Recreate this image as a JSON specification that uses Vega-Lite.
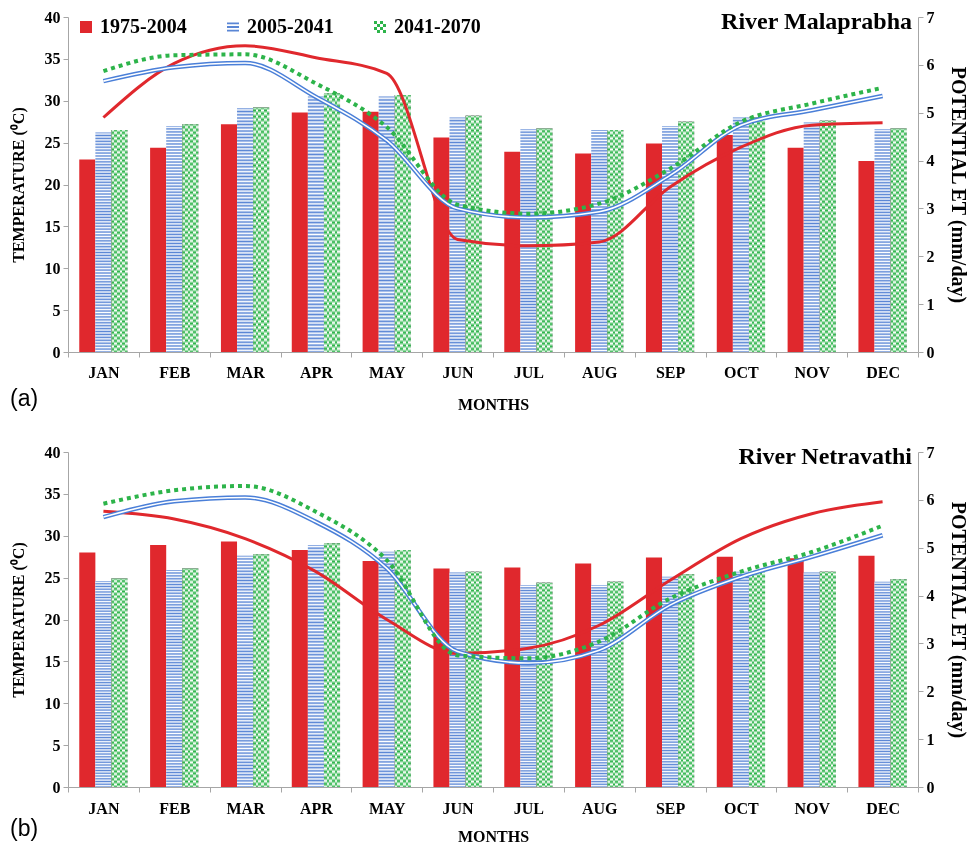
{
"$schema":"https://vega.github.io/schema/vega-lite/v6.json",
"padding":{"left":10,"top":9,"right":4,"bottom":0},
"spacing":32,
"datasets":{
"a":[
{"month":"JAN","series":"1975-2004","temp":23.0,"pet":4.90},{"month":"JAN","series":"2005-2041","temp":26.2,"pet":5.66},{"month":"JAN","series":"2041-2070","temp":26.5,"pet":5.87},
{"month":"FEB","series":"1975-2004","temp":24.4,"pet":6.03},{"month":"FEB","series":"2005-2041","temp":27.0,"pet":5.95},{"month":"FEB","series":"2041-2070","temp":27.2,"pet":6.20},
{"month":"MAR","series":"1975-2004","temp":27.2,"pet":6.40},{"month":"MAR","series":"2005-2041","temp":29.1,"pet":6.04},{"month":"MAR","series":"2041-2070","temp":29.2,"pet":6.22},
{"month":"APR","series":"1975-2004","temp":28.6,"pet":6.15},{"month":"APR","series":"2005-2041","temp":30.5,"pet":5.33},{"month":"APR","series":"2041-2070","temp":30.9,"pet":5.61},
{"month":"MAY","series":"1975-2004","temp":28.7,"pet":5.82},{"month":"MAY","series":"2005-2041","temp":30.5,"pet":4.42},{"month":"MAY","series":"2041-2070","temp":30.7,"pet":4.70},
{"month":"JUN","series":"1975-2004","temp":25.6,"pet":2.35},{"month":"JUN","series":"2005-2041","temp":28.0,"pet":3.00},{"month":"JUN","series":"2041-2070","temp":28.2,"pet":3.08},
{"month":"JUL","series":"1975-2004","temp":23.9,"pet":2.22},{"month":"JUL","series":"2005-2041","temp":26.6,"pet":2.81},{"month":"JUL","series":"2041-2070","temp":26.7,"pet":2.89},
{"month":"AUG","series":"1975-2004","temp":23.7,"pet":2.30},{"month":"AUG","series":"2005-2041","temp":26.5,"pet":2.93},{"month":"AUG","series":"2041-2070","temp":26.5,"pet":3.10},
{"month":"SEP","series":"1975-2004","temp":24.9,"pet":3.45},{"month":"SEP","series":"2005-2041","temp":27.0,"pet":3.69},{"month":"SEP","series":"2041-2070","temp":27.5,"pet":3.83},
{"month":"OCT","series":"1975-2004","temp":25.9,"pet":4.28},{"month":"OCT","series":"2005-2041","temp":28.0,"pet":4.74},{"month":"OCT","series":"2041-2070","temp":28.0,"pet":4.81},
{"month":"NOV","series":"1975-2004","temp":24.4,"pet":4.74},{"month":"NOV","series":"2005-2041","temp":27.4,"pet":5.05},{"month":"NOV","series":"2041-2070","temp":27.6,"pet":5.19},
{"month":"DEC","series":"1975-2004","temp":22.8,"pet":4.79},{"month":"DEC","series":"2005-2041","temp":26.6,"pet":5.35},{"month":"DEC","series":"2041-2070","temp":26.7,"pet":5.52}
],
"b":[
{"month":"JAN","series":"1975-2004","temp":28.0,"pet":5.76},{"month":"JAN","series":"2005-2041","temp":24.6,"pet":5.64},{"month":"JAN","series":"2041-2070","temp":24.9,"pet":5.92},
{"month":"FEB","series":"1975-2004","temp":28.9,"pet":5.60},{"month":"FEB","series":"2005-2041","temp":25.9,"pet":5.97},{"month":"FEB","series":"2041-2070","temp":26.1,"pet":6.20},
{"month":"MAR","series":"1975-2004","temp":29.3,"pet":5.19},{"month":"MAR","series":"2005-2041","temp":27.6,"pet":6.05},{"month":"MAR","series":"2041-2070","temp":27.8,"pet":6.29},
{"month":"APR","series":"1975-2004","temp":28.3,"pet":4.50},{"month":"APR","series":"2005-2041","temp":28.9,"pet":5.54},{"month":"APR","series":"2041-2070","temp":29.1,"pet":5.75},
{"month":"MAY","series":"1975-2004","temp":27.0,"pet":3.50},{"month":"MAY","series":"2005-2041","temp":28.1,"pet":4.57},{"month":"MAY","series":"2041-2070","temp":28.3,"pet":4.74},
{"month":"JUN","series":"1975-2004","temp":26.1,"pet":2.79},{"month":"JUN","series":"2005-2041","temp":25.6,"pet":2.83},{"month":"JUN","series":"2041-2070","temp":25.7,"pet":2.75},
{"month":"JUL","series":"1975-2004","temp":26.2,"pet":2.90},{"month":"JUL","series":"2005-2041","temp":24.1,"pet":2.59},{"month":"JUL","series":"2041-2070","temp":24.4,"pet":2.69},
{"month":"AUG","series":"1975-2004","temp":26.7,"pet":3.38},{"month":"AUG","series":"2005-2041","temp":24.1,"pet":2.86},{"month":"AUG","series":"2041-2070","temp":24.5,"pet":3.04},
{"month":"SEP","series":"1975-2004","temp":27.4,"pet":4.32},{"month":"SEP","series":"2005-2041","temp":25.1,"pet":3.80},{"month":"SEP","series":"2041-2070","temp":25.4,"pet":3.94},
{"month":"OCT","series":"1975-2004","temp":27.5,"pet":5.19},{"month":"OCT","series":"2005-2041","temp":25.7,"pet":4.39},{"month":"OCT","series":"2041-2070","temp":25.8,"pet":4.50},
{"month":"NOV","series":"1975-2004","temp":27.3,"pet":5.71},{"month":"NOV","series":"2005-2041","temp":25.6,"pet":4.81},{"month":"NOV","series":"2041-2070","temp":25.7,"pet":4.91},
{"month":"DEC","series":"1975-2004","temp":27.6,"pet":5.96},{"month":"DEC","series":"2005-2041","temp":24.5,"pet":5.26},{"month":"DEC","series":"2041-2070","temp":24.8,"pet":5.46}
]
},
"vconcat":[
{
"title":{"text":"(a)","orient":"bottom","anchor":"start","frame":"bounds","font":"Liberation Sans","fontSize":23,"fontWeight":"normal","color":"#000","offset":-24},
"vconcat":[{
"width":850,"height":335,
"data":{"name":"a"},
"title":{"text":"River Malaprabha","orient":"top","anchor":"end","frame":"group","font":"Liberation Serif","fontSize":24,"fontWeight":"bold","color":"#000","offset":-24,"baseline":"alphabetic","dy":20,"dx":-6},
"encoding":{"x":{"field":"month","type":"ordinal","sort":["JAN","FEB","MAR","APR","MAY","JUN","JUL","AUG","SEP","OCT","NOV","DEC"],"scale":{"paddingInner":0,"paddingOuter":0},"axis":{"title":"MONTHS","labelAngle":0,"tickBand":"extent","labelPadding":7,"titlePadding":16,"titleFontSize":16}}},
"layer":[
{"encoding":{"y":{"field":"temp","type":"quantitative","scale":{"domain":[0,40],"nice":false},"axis":{"title":"TEMPERATURE (⁰C)","values":[0,5,10,15,20,25,30,35,40],"titlePadding":18,"titleFontSize":16}},
"xOffset":{"field":"series","type":"nominal","scale":{"domain":["1975-2004","2005-2041","2041-2070"],"paddingInner":0,"paddingOuter":0.7}}},
"layer":[
{"transform":[{"filter":"datum.series == '1975-2004'"}],"mark":{"type":"bar","fill":"#e0282d"}},
{"transform":[{"filter":"datum.series == '2005-2041'"}],"mark":{"type":"bar","fill":{"gradient":"linear","x1":0,"y1":0,"x2":0,"y2":1,"stops":[
{"offset":0,"color":"#5a86d5"},{"offset":0.0067,"color":"#fff"},{"offset":0.0133,"color":"#5a86d5"},{"offset":0.02,"color":"#fff"},{"offset":0.0267,"color":"#5a86d5"},{"offset":0.0333,"color":"#fff"},
{"offset":0.04,"color":"#5a86d5"},{"offset":0.0467,"color":"#fff"},{"offset":0.0533,"color":"#5a86d5"},{"offset":0.06,"color":"#fff"},{"offset":0.0667,"color":"#5a86d5"},{"offset":0.0733,"color":"#fff"},
{"offset":0.08,"color":"#5a86d5"},{"offset":0.0867,"color":"#fff"},{"offset":0.0933,"color":"#5a86d5"},{"offset":0.1,"color":"#fff"},{"offset":0.1067,"color":"#5a86d5"},{"offset":0.1133,"color":"#fff"},
{"offset":0.12,"color":"#5a86d5"},{"offset":0.1267,"color":"#fff"},{"offset":0.1333,"color":"#5a86d5"},{"offset":0.14,"color":"#fff"},{"offset":0.1467,"color":"#5a86d5"},{"offset":0.1533,"color":"#fff"},
{"offset":0.16,"color":"#5a86d5"},{"offset":0.1667,"color":"#fff"},{"offset":0.1733,"color":"#5a86d5"},{"offset":0.18,"color":"#fff"},{"offset":0.1867,"color":"#5a86d5"},{"offset":0.1933,"color":"#fff"},
{"offset":0.2,"color":"#5a86d5"},{"offset":0.2067,"color":"#fff"},{"offset":0.2133,"color":"#5a86d5"},{"offset":0.22,"color":"#fff"},{"offset":0.2267,"color":"#5a86d5"},{"offset":0.2333,"color":"#fff"},
{"offset":0.24,"color":"#5a86d5"},{"offset":0.2467,"color":"#fff"},{"offset":0.2533,"color":"#5a86d5"},{"offset":0.26,"color":"#fff"},{"offset":0.2667,"color":"#5a86d5"},{"offset":0.2733,"color":"#fff"},
{"offset":0.28,"color":"#5a86d5"},{"offset":0.2867,"color":"#fff"},{"offset":0.2933,"color":"#5a86d5"},{"offset":0.3,"color":"#fff"},{"offset":0.3067,"color":"#5a86d5"},{"offset":0.3133,"color":"#fff"},
{"offset":0.32,"color":"#5a86d5"},{"offset":0.3267,"color":"#fff"},{"offset":0.3333,"color":"#5a86d5"},{"offset":0.34,"color":"#fff"},{"offset":0.3467,"color":"#5a86d5"},{"offset":0.3533,"color":"#fff"},
{"offset":0.36,"color":"#5a86d5"},{"offset":0.3667,"color":"#fff"},{"offset":0.3733,"color":"#5a86d5"},{"offset":0.38,"color":"#fff"},{"offset":0.3867,"color":"#5a86d5"},{"offset":0.3933,"color":"#fff"},
{"offset":0.4,"color":"#5a86d5"},{"offset":0.4067,"color":"#fff"},{"offset":0.4133,"color":"#5a86d5"},{"offset":0.42,"color":"#fff"},{"offset":0.4267,"color":"#5a86d5"},{"offset":0.4333,"color":"#fff"},
{"offset":0.44,"color":"#5a86d5"},{"offset":0.4467,"color":"#fff"},{"offset":0.4533,"color":"#5a86d5"},{"offset":0.46,"color":"#fff"},{"offset":0.4667,"color":"#5a86d5"},{"offset":0.4733,"color":"#fff"},
{"offset":0.48,"color":"#5a86d5"},{"offset":0.4867,"color":"#fff"},{"offset":0.4933,"color":"#5a86d5"},{"offset":0.5,"color":"#fff"},{"offset":0.5067,"color":"#5a86d5"},{"offset":0.5133,"color":"#fff"},
{"offset":0.52,"color":"#5a86d5"},{"offset":0.5267,"color":"#fff"},{"offset":0.5333,"color":"#5a86d5"},{"offset":0.54,"color":"#fff"},{"offset":0.5467,"color":"#5a86d5"},{"offset":0.5533,"color":"#fff"},
{"offset":0.56,"color":"#5a86d5"},{"offset":0.5667,"color":"#fff"},{"offset":0.5733,"color":"#5a86d5"},{"offset":0.58,"color":"#fff"},{"offset":0.5867,"color":"#5a86d5"},{"offset":0.5933,"color":"#fff"},
{"offset":0.6,"color":"#5a86d5"},{"offset":0.6067,"color":"#fff"},{"offset":0.6133,"color":"#5a86d5"},{"offset":0.62,"color":"#fff"},{"offset":0.6267,"color":"#5a86d5"},{"offset":0.6333,"color":"#fff"},
{"offset":0.64,"color":"#5a86d5"},{"offset":0.6467,"color":"#fff"},{"offset":0.6533,"color":"#5a86d5"},{"offset":0.66,"color":"#fff"},{"offset":0.6667,"color":"#5a86d5"},{"offset":0.6733,"color":"#fff"},
{"offset":0.68,"color":"#5a86d5"},{"offset":0.6867,"color":"#fff"},{"offset":0.6933,"color":"#5a86d5"},{"offset":0.7,"color":"#fff"},{"offset":0.7067,"color":"#5a86d5"},{"offset":0.7133,"color":"#fff"},
{"offset":0.72,"color":"#5a86d5"},{"offset":0.7267,"color":"#fff"},{"offset":0.7333,"color":"#5a86d5"},{"offset":0.74,"color":"#fff"},{"offset":0.7467,"color":"#5a86d5"},{"offset":0.7533,"color":"#fff"},
{"offset":0.76,"color":"#5a86d5"},{"offset":0.7667,"color":"#fff"},{"offset":0.7733,"color":"#5a86d5"},{"offset":0.78,"color":"#fff"},{"offset":0.7867,"color":"#5a86d5"},{"offset":0.7933,"color":"#fff"},
{"offset":0.8,"color":"#5a86d5"},{"offset":0.8067,"color":"#fff"},{"offset":0.8133,"color":"#5a86d5"},{"offset":0.82,"color":"#fff"},{"offset":0.8267,"color":"#5a86d5"},{"offset":0.8333,"color":"#fff"},
{"offset":0.84,"color":"#5a86d5"},{"offset":0.8467,"color":"#fff"},{"offset":0.8533,"color":"#5a86d5"},{"offset":0.86,"color":"#fff"},{"offset":0.8667,"color":"#5a86d5"},{"offset":0.8733,"color":"#fff"},
{"offset":0.88,"color":"#5a86d5"},{"offset":0.8867,"color":"#fff"},{"offset":0.8933,"color":"#5a86d5"},{"offset":0.9,"color":"#fff"},{"offset":0.9067,"color":"#5a86d5"},{"offset":0.9133,"color":"#fff"},
{"offset":0.92,"color":"#5a86d5"},{"offset":0.9267,"color":"#fff"},{"offset":0.9333,"color":"#5a86d5"},{"offset":0.94,"color":"#fff"},{"offset":0.9467,"color":"#5a86d5"},{"offset":0.9533,"color":"#fff"},
{"offset":0.96,"color":"#5a86d5"},{"offset":0.9667,"color":"#fff"},{"offset":0.9733,"color":"#5a86d5"},{"offset":0.98,"color":"#fff"},{"offset":0.9867,"color":"#5a86d5"},{"offset":0.9933,"color":"#fff"},
{"offset":1,"color":"#5a86d5"}]}}},
{"transform":[{"filter":"datum.series == '2041-2070'"}],"mark":{"type":"bar","fill":{"gradient":"linear","x1":0,"y1":0,"x2":0,"y2":1,"stops":[
{"offset":0,"color":"#000"},{"offset":0.0125,"color":"#fff"},{"offset":0.025,"color":"#000"},{"offset":0.0375,"color":"#fff"},{"offset":0.05,"color":"#000"},{"offset":0.0625,"color":"#fff"},{"offset":0.075,"color":"#000"},{"offset":0.0875,"color":"#fff"},
{"offset":0.1,"color":"#000"},{"offset":0.1125,"color":"#fff"},{"offset":0.125,"color":"#000"},{"offset":0.1375,"color":"#fff"},{"offset":0.15,"color":"#000"},{"offset":0.1625,"color":"#fff"},{"offset":0.175,"color":"#000"},{"offset":0.1875,"color":"#fff"},
{"offset":0.2,"color":"#000"},{"offset":0.2125,"color":"#fff"},{"offset":0.225,"color":"#000"},{"offset":0.2375,"color":"#fff"},{"offset":0.25,"color":"#000"},{"offset":0.2625,"color":"#fff"},{"offset":0.275,"color":"#000"},{"offset":0.2875,"color":"#fff"},
{"offset":0.3,"color":"#000"},{"offset":0.3125,"color":"#fff"},{"offset":0.325,"color":"#000"},{"offset":0.3375,"color":"#fff"},{"offset":0.35,"color":"#000"},{"offset":0.3625,"color":"#fff"},{"offset":0.375,"color":"#000"},{"offset":0.3875,"color":"#fff"},
{"offset":0.4,"color":"#000"},{"offset":0.4125,"color":"#fff"},{"offset":0.425,"color":"#000"},{"offset":0.4375,"color":"#fff"},{"offset":0.45,"color":"#000"},{"offset":0.4625,"color":"#fff"},{"offset":0.475,"color":"#000"},{"offset":0.4875,"color":"#fff"},
{"offset":0.5,"color":"#000"},{"offset":0.5125,"color":"#fff"},{"offset":0.525,"color":"#000"},{"offset":0.5375,"color":"#fff"},{"offset":0.55,"color":"#000"},{"offset":0.5625,"color":"#fff"},{"offset":0.575,"color":"#000"},{"offset":0.5875,"color":"#fff"},
{"offset":0.6,"color":"#000"},{"offset":0.6125,"color":"#fff"},{"offset":0.625,"color":"#000"},{"offset":0.6375,"color":"#fff"},{"offset":0.65,"color":"#000"},{"offset":0.6625,"color":"#fff"},{"offset":0.675,"color":"#000"},{"offset":0.6875,"color":"#fff"},
{"offset":0.7,"color":"#000"},{"offset":0.7125,"color":"#fff"},{"offset":0.725,"color":"#000"},{"offset":0.7375,"color":"#fff"},{"offset":0.75,"color":"#000"},{"offset":0.7625,"color":"#fff"},{"offset":0.775,"color":"#000"},{"offset":0.7875,"color":"#fff"},
{"offset":0.8,"color":"#000"},{"offset":0.8125,"color":"#fff"},{"offset":0.825,"color":"#000"},{"offset":0.8375,"color":"#fff"},{"offset":0.85,"color":"#000"},{"offset":0.8625,"color":"#fff"},{"offset":0.875,"color":"#000"},{"offset":0.8875,"color":"#fff"},
{"offset":0.9,"color":"#000"},{"offset":0.9125,"color":"#fff"},{"offset":0.925,"color":"#000"},{"offset":0.9375,"color":"#fff"},{"offset":0.95,"color":"#000"},{"offset":0.9625,"color":"#fff"},{"offset":0.975,"color":"#000"},{"offset":0.9875,"color":"#fff"},
{"offset":1,"color":"#000"}]}}},
{"transform":[{"filter":"datum.series == '2041-2070'"}],"mark":{"type":"bar","blend":"difference","fill":{"gradient":"linear","x1":0,"y1":0,"x2":1,"y2":0,"stops":[
{"offset":0,"color":"#fff"},{"offset":0.1667,"color":"#fff"},{"offset":0.1667,"color":"rgba(255,255,255,0)"},{"offset":0.3333,"color":"rgba(255,255,255,0)"},{"offset":0.3333,"color":"#fff"},{"offset":0.5,"color":"#fff"},{"offset":0.5,"color":"rgba(255,255,255,0)"},{"offset":0.6667,"color":"rgba(255,255,255,0)"},{"offset":0.6667,"color":"#fff"},{"offset":0.8333,"color":"#fff"},{"offset":0.8333,"color":"rgba(255,255,255,0)"},{"offset":1,"color":"rgba(255,255,255,0)"}]}}},
{"transform":[{"filter":"datum.series == '2041-2070'"}],"mark":{"type":"bar","blend":"screen","fill":"#2db44a"}}
]},
{"encoding":{"y":{"field":"pet","type":"quantitative","scale":{"domain":[0,7],"nice":false},"axis":{"orient":"right","title":"POTENTIAL ET (mm/day)","values":[0,1,2,3,4,5,6,7],"titlePadding":13,"titleFontSize":20}}},
"layer":[
{"transform":[{"filter":"datum.series == '1975-2004'"}],"mark":{"type":"line","stroke":"#e0282d","strokeWidth":3,"interpolate":"monotone"},"encoding":{"order":{"value":null}}},
{"transform":[{"filter":"datum.series == '2005-2041'"}],"mark":{"type":"line","stroke":"#4a7fd8","strokeWidth":4.5,"interpolate":"monotone"},"encoding":{"order":{"value":null}}},
{"transform":[{"filter":"datum.series == '2005-2041'"}],"mark":{"type":"line","stroke":"#ffffff","strokeWidth":1.6,"interpolate":"monotone"},"encoding":{"order":{"value":null}}},
{"transform":[{"filter":"datum.series == '2041-2070'"}],"mark":{"type":"line","stroke":"#2db44a","strokeWidth":4,"strokeDash":[4,4],"interpolate":"monotone"},"encoding":{"order":{"value":null}}},
{"transform":[{"filter":"datum.temp < 0"}],"mark":{"type":"point","filled":true,"opacity":1},
"encoding":{"color":{"field":"series","type":"nominal","scale":{"domain":["1975-2004","2005-2041","2041-2070"],"range":["#e0282d","#5a86d5","#2db44a"]},"legend":{"title":null,"orient":"none","legendX":8,"legendY":0,"direction":"horizontal"}},
"shape":{"field":"series","type":"nominal","scale":{"domain":["1975-2004","2005-2041","2041-2070"],"range":["square","M-1,-0.75H1V-0.45H-1Z M-1,-0.15H1V0.15H-1Z M-1,0.45H1V0.75H-1Z","M-1,-1h0.5v0.5h-0.5z M0,-1h0.5v0.5h-0.5z M-0.5,-0.5h0.5v0.5h-0.5z M0.5,-0.5h0.5v0.5h-0.5z M-1,0h0.5v0.5h-0.5z M0,0h0.5v0.5h-0.5z M-0.5,0.5h0.5v0.5h-0.5z M0.5,0.5h0.5v0.5h-0.5z"]},"legend":{"title":null,"orient":"none","legendX":8,"legendY":0,"direction":"horizontal"}}}}
]}
],
"resolve":{"scale":{"y":"independent"}}
}]
},
{
"title":{"text":"(b)","orient":"bottom","anchor":"start","frame":"bounds","font":"Liberation Sans","fontSize":23,"fontWeight":"normal","color":"#000","offset":-26},
"vconcat":[{
"width":850,"height":335,
"data":{"name":"b"},
"title":{"text":"River Netravathi","orient":"top","anchor":"end","frame":"group","font":"Liberation Serif","fontSize":24,"fontWeight":"bold","color":"#000","offset":-24,"baseline":"alphabetic","dy":20,"dx":-6},
"encoding":{"x":{"field":"month","type":"ordinal","sort":["JAN","FEB","MAR","APR","MAY","JUN","JUL","AUG","SEP","OCT","NOV","DEC"],"scale":{"paddingInner":0,"paddingOuter":0},"axis":{"title":"MONTHS","labelAngle":0,"tickBand":"extent","labelPadding":8,"titlePadding":12,"titleFontSize":16}}},
"layer":[
{"encoding":{"y":{"field":"temp","type":"quantitative","scale":{"domain":[0,40],"nice":false},"axis":{"title":"TEMPERATURE (⁰C)","values":[0,5,10,15,20,25,30,35,40],"titlePadding":18,"titleFontSize":16}},
"xOffset":{"field":"series","type":"nominal","scale":{"domain":["1975-2004","2005-2041","2041-2070"],"paddingInner":0,"paddingOuter":0.7}}},
"layer":[
{"transform":[{"filter":"datum.series == '1975-2004'"}],"mark":{"type":"bar","fill":"#e0282d"}},
{"transform":[{"filter":"datum.series == '2005-2041'"}],"mark":{"type":"bar","fill":{"gradient":"linear","x1":0,"y1":0,"x2":0,"y2":1,"stops":[
{"offset":0,"color":"#5a86d5"},{"offset":0.0067,"color":"#fff"},{"offset":0.0133,"color":"#5a86d5"},{"offset":0.02,"color":"#fff"},{"offset":0.0267,"color":"#5a86d5"},{"offset":0.0333,"color":"#fff"},
{"offset":0.04,"color":"#5a86d5"},{"offset":0.0467,"color":"#fff"},{"offset":0.0533,"color":"#5a86d5"},{"offset":0.06,"color":"#fff"},{"offset":0.0667,"color":"#5a86d5"},{"offset":0.0733,"color":"#fff"},
{"offset":0.08,"color":"#5a86d5"},{"offset":0.0867,"color":"#fff"},{"offset":0.0933,"color":"#5a86d5"},{"offset":0.1,"color":"#fff"},{"offset":0.1067,"color":"#5a86d5"},{"offset":0.1133,"color":"#fff"},
{"offset":0.12,"color":"#5a86d5"},{"offset":0.1267,"color":"#fff"},{"offset":0.1333,"color":"#5a86d5"},{"offset":0.14,"color":"#fff"},{"offset":0.1467,"color":"#5a86d5"},{"offset":0.1533,"color":"#fff"},
{"offset":0.16,"color":"#5a86d5"},{"offset":0.1667,"color":"#fff"},{"offset":0.1733,"color":"#5a86d5"},{"offset":0.18,"color":"#fff"},{"offset":0.1867,"color":"#5a86d5"},{"offset":0.1933,"color":"#fff"},
{"offset":0.2,"color":"#5a86d5"},{"offset":0.2067,"color":"#fff"},{"offset":0.2133,"color":"#5a86d5"},{"offset":0.22,"color":"#fff"},{"offset":0.2267,"color":"#5a86d5"},{"offset":0.2333,"color":"#fff"},
{"offset":0.24,"color":"#5a86d5"},{"offset":0.2467,"color":"#fff"},{"offset":0.2533,"color":"#5a86d5"},{"offset":0.26,"color":"#fff"},{"offset":0.2667,"color":"#5a86d5"},{"offset":0.2733,"color":"#fff"},
{"offset":0.28,"color":"#5a86d5"},{"offset":0.2867,"color":"#fff"},{"offset":0.2933,"color":"#5a86d5"},{"offset":0.3,"color":"#fff"},{"offset":0.3067,"color":"#5a86d5"},{"offset":0.3133,"color":"#fff"},
{"offset":0.32,"color":"#5a86d5"},{"offset":0.3267,"color":"#fff"},{"offset":0.3333,"color":"#5a86d5"},{"offset":0.34,"color":"#fff"},{"offset":0.3467,"color":"#5a86d5"},{"offset":0.3533,"color":"#fff"},
{"offset":0.36,"color":"#5a86d5"},{"offset":0.3667,"color":"#fff"},{"offset":0.3733,"color":"#5a86d5"},{"offset":0.38,"color":"#fff"},{"offset":0.3867,"color":"#5a86d5"},{"offset":0.3933,"color":"#fff"},
{"offset":0.4,"color":"#5a86d5"},{"offset":0.4067,"color":"#fff"},{"offset":0.4133,"color":"#5a86d5"},{"offset":0.42,"color":"#fff"},{"offset":0.4267,"color":"#5a86d5"},{"offset":0.4333,"color":"#fff"},
{"offset":0.44,"color":"#5a86d5"},{"offset":0.4467,"color":"#fff"},{"offset":0.4533,"color":"#5a86d5"},{"offset":0.46,"color":"#fff"},{"offset":0.4667,"color":"#5a86d5"},{"offset":0.4733,"color":"#fff"},
{"offset":0.48,"color":"#5a86d5"},{"offset":0.4867,"color":"#fff"},{"offset":0.4933,"color":"#5a86d5"},{"offset":0.5,"color":"#fff"},{"offset":0.5067,"color":"#5a86d5"},{"offset":0.5133,"color":"#fff"},
{"offset":0.52,"color":"#5a86d5"},{"offset":0.5267,"color":"#fff"},{"offset":0.5333,"color":"#5a86d5"},{"offset":0.54,"color":"#fff"},{"offset":0.5467,"color":"#5a86d5"},{"offset":0.5533,"color":"#fff"},
{"offset":0.56,"color":"#5a86d5"},{"offset":0.5667,"color":"#fff"},{"offset":0.5733,"color":"#5a86d5"},{"offset":0.58,"color":"#fff"},{"offset":0.5867,"color":"#5a86d5"},{"offset":0.5933,"color":"#fff"},
{"offset":0.6,"color":"#5a86d5"},{"offset":0.6067,"color":"#fff"},{"offset":0.6133,"color":"#5a86d5"},{"offset":0.62,"color":"#fff"},{"offset":0.6267,"color":"#5a86d5"},{"offset":0.6333,"color":"#fff"},
{"offset":0.64,"color":"#5a86d5"},{"offset":0.6467,"color":"#fff"},{"offset":0.6533,"color":"#5a86d5"},{"offset":0.66,"color":"#fff"},{"offset":0.6667,"color":"#5a86d5"},{"offset":0.6733,"color":"#fff"},
{"offset":0.68,"color":"#5a86d5"},{"offset":0.6867,"color":"#fff"},{"offset":0.6933,"color":"#5a86d5"},{"offset":0.7,"color":"#fff"},{"offset":0.7067,"color":"#5a86d5"},{"offset":0.7133,"color":"#fff"},
{"offset":0.72,"color":"#5a86d5"},{"offset":0.7267,"color":"#fff"},{"offset":0.7333,"color":"#5a86d5"},{"offset":0.74,"color":"#fff"},{"offset":0.7467,"color":"#5a86d5"},{"offset":0.7533,"color":"#fff"},
{"offset":0.76,"color":"#5a86d5"},{"offset":0.7667,"color":"#fff"},{"offset":0.7733,"color":"#5a86d5"},{"offset":0.78,"color":"#fff"},{"offset":0.7867,"color":"#5a86d5"},{"offset":0.7933,"color":"#fff"},
{"offset":0.8,"color":"#5a86d5"},{"offset":0.8067,"color":"#fff"},{"offset":0.8133,"color":"#5a86d5"},{"offset":0.82,"color":"#fff"},{"offset":0.8267,"color":"#5a86d5"},{"offset":0.8333,"color":"#fff"},
{"offset":0.84,"color":"#5a86d5"},{"offset":0.8467,"color":"#fff"},{"offset":0.8533,"color":"#5a86d5"},{"offset":0.86,"color":"#fff"},{"offset":0.8667,"color":"#5a86d5"},{"offset":0.8733,"color":"#fff"},
{"offset":0.88,"color":"#5a86d5"},{"offset":0.8867,"color":"#fff"},{"offset":0.8933,"color":"#5a86d5"},{"offset":0.9,"color":"#fff"},{"offset":0.9067,"color":"#5a86d5"},{"offset":0.9133,"color":"#fff"},
{"offset":0.92,"color":"#5a86d5"},{"offset":0.9267,"color":"#fff"},{"offset":0.9333,"color":"#5a86d5"},{"offset":0.94,"color":"#fff"},{"offset":0.9467,"color":"#5a86d5"},{"offset":0.9533,"color":"#fff"},
{"offset":0.96,"color":"#5a86d5"},{"offset":0.9667,"color":"#fff"},{"offset":0.9733,"color":"#5a86d5"},{"offset":0.98,"color":"#fff"},{"offset":0.9867,"color":"#5a86d5"},{"offset":0.9933,"color":"#fff"},
{"offset":1,"color":"#5a86d5"}]}}},
{"transform":[{"filter":"datum.series == '2041-2070'"}],"mark":{"type":"bar","fill":{"gradient":"linear","x1":0,"y1":0,"x2":0,"y2":1,"stops":[
{"offset":0,"color":"#000"},{"offset":0.0125,"color":"#fff"},{"offset":0.025,"color":"#000"},{"offset":0.0375,"color":"#fff"},{"offset":0.05,"color":"#000"},{"offset":0.0625,"color":"#fff"},{"offset":0.075,"color":"#000"},{"offset":0.0875,"color":"#fff"},
{"offset":0.1,"color":"#000"},{"offset":0.1125,"color":"#fff"},{"offset":0.125,"color":"#000"},{"offset":0.1375,"color":"#fff"},{"offset":0.15,"color":"#000"},{"offset":0.1625,"color":"#fff"},{"offset":0.175,"color":"#000"},{"offset":0.1875,"color":"#fff"},
{"offset":0.2,"color":"#000"},{"offset":0.2125,"color":"#fff"},{"offset":0.225,"color":"#000"},{"offset":0.2375,"color":"#fff"},{"offset":0.25,"color":"#000"},{"offset":0.2625,"color":"#fff"},{"offset":0.275,"color":"#000"},{"offset":0.2875,"color":"#fff"},
{"offset":0.3,"color":"#000"},{"offset":0.3125,"color":"#fff"},{"offset":0.325,"color":"#000"},{"offset":0.3375,"color":"#fff"},{"offset":0.35,"color":"#000"},{"offset":0.3625,"color":"#fff"},{"offset":0.375,"color":"#000"},{"offset":0.3875,"color":"#fff"},
{"offset":0.4,"color":"#000"},{"offset":0.4125,"color":"#fff"},{"offset":0.425,"color":"#000"},{"offset":0.4375,"color":"#fff"},{"offset":0.45,"color":"#000"},{"offset":0.4625,"color":"#fff"},{"offset":0.475,"color":"#000"},{"offset":0.4875,"color":"#fff"},
{"offset":0.5,"color":"#000"},{"offset":0.5125,"color":"#fff"},{"offset":0.525,"color":"#000"},{"offset":0.5375,"color":"#fff"},{"offset":0.55,"color":"#000"},{"offset":0.5625,"color":"#fff"},{"offset":0.575,"color":"#000"},{"offset":0.5875,"color":"#fff"},
{"offset":0.6,"color":"#000"},{"offset":0.6125,"color":"#fff"},{"offset":0.625,"color":"#000"},{"offset":0.6375,"color":"#fff"},{"offset":0.65,"color":"#000"},{"offset":0.6625,"color":"#fff"},{"offset":0.675,"color":"#000"},{"offset":0.6875,"color":"#fff"},
{"offset":0.7,"color":"#000"},{"offset":0.7125,"color":"#fff"},{"offset":0.725,"color":"#000"},{"offset":0.7375,"color":"#fff"},{"offset":0.75,"color":"#000"},{"offset":0.7625,"color":"#fff"},{"offset":0.775,"color":"#000"},{"offset":0.7875,"color":"#fff"},
{"offset":0.8,"color":"#000"},{"offset":0.8125,"color":"#fff"},{"offset":0.825,"color":"#000"},{"offset":0.8375,"color":"#fff"},{"offset":0.85,"color":"#000"},{"offset":0.8625,"color":"#fff"},{"offset":0.875,"color":"#000"},{"offset":0.8875,"color":"#fff"},
{"offset":0.9,"color":"#000"},{"offset":0.9125,"color":"#fff"},{"offset":0.925,"color":"#000"},{"offset":0.9375,"color":"#fff"},{"offset":0.95,"color":"#000"},{"offset":0.9625,"color":"#fff"},{"offset":0.975,"color":"#000"},{"offset":0.9875,"color":"#fff"},
{"offset":1,"color":"#000"}]}}},
{"transform":[{"filter":"datum.series == '2041-2070'"}],"mark":{"type":"bar","blend":"difference","fill":{"gradient":"linear","x1":0,"y1":0,"x2":1,"y2":0,"stops":[
{"offset":0,"color":"#fff"},{"offset":0.1667,"color":"#fff"},{"offset":0.1667,"color":"rgba(255,255,255,0)"},{"offset":0.3333,"color":"rgba(255,255,255,0)"},{"offset":0.3333,"color":"#fff"},{"offset":0.5,"color":"#fff"},{"offset":0.5,"color":"rgba(255,255,255,0)"},{"offset":0.6667,"color":"rgba(255,255,255,0)"},{"offset":0.6667,"color":"#fff"},{"offset":0.8333,"color":"#fff"},{"offset":0.8333,"color":"rgba(255,255,255,0)"},{"offset":1,"color":"rgba(255,255,255,0)"}]}}},
{"transform":[{"filter":"datum.series == '2041-2070'"}],"mark":{"type":"bar","blend":"screen","fill":"#2db44a"}}
]},
{"encoding":{"y":{"field":"pet","type":"quantitative","scale":{"domain":[0,7],"nice":false},"axis":{"orient":"right","title":"POTENTIAL ET (mm/day)","values":[0,1,2,3,4,5,6,7],"titlePadding":13,"titleFontSize":20}}},
"layer":[
{"transform":[{"filter":"datum.series == '1975-2004'"}],"mark":{"type":"line","stroke":"#e0282d","strokeWidth":3,"interpolate":"monotone"},"encoding":{"order":{"value":null}}},
{"transform":[{"filter":"datum.series == '2005-2041'"}],"mark":{"type":"line","stroke":"#4a7fd8","strokeWidth":4.5,"interpolate":"monotone"},"encoding":{"order":{"value":null}}},
{"transform":[{"filter":"datum.series == '2005-2041'"}],"mark":{"type":"line","stroke":"#ffffff","strokeWidth":1.6,"interpolate":"monotone"},"encoding":{"order":{"value":null}}},
{"transform":[{"filter":"datum.series == '2041-2070'"}],"mark":{"type":"line","stroke":"#2db44a","strokeWidth":4,"strokeDash":[4,4],"interpolate":"monotone"},"encoding":{"order":{"value":null}}},
{"transform":[{"filter":"datum.temp < 0"}],"mark":{"type":"point","filled":true,"opacity":1},
"encoding":{"color":{"field":"series","type":"nominal","scale":{"domain":["1975-2004","2005-2041","2041-2070"],"range":["#e0282d","#5a86d5","#2db44a"]},"legend":{"title":null,"orient":"none","legendX":8,"legendY":0,"direction":"horizontal"}},
"shape":{"field":"series","type":"nominal","scale":{"domain":["1975-2004","2005-2041","2041-2070"],"range":["square","M-1,-0.75H1V-0.45H-1Z M-1,-0.15H1V0.15H-1Z M-1,0.45H1V0.75H-1Z","M-1,-1h0.5v0.5h-0.5z M0,-1h0.5v0.5h-0.5z M-0.5,-0.5h0.5v0.5h-0.5z M0.5,-0.5h0.5v0.5h-0.5z M-1,0h0.5v0.5h-0.5z M0,0h0.5v0.5h-0.5z M-0.5,0.5h0.5v0.5h-0.5z M0.5,0.5h0.5v0.5h-0.5z"]},"legend":{"title":null,"orient":"none","legendX":8,"legendY":0,"direction":"horizontal"}}}}
]}
],
"resolve":{"scale":{"y":"independent"}}
}]
}
],
"config":{
"view":{"stroke":null},
"font":"Liberation Serif",
"axis":{"labelFont":"Liberation Serif","labelFontSize":16,"labelFontWeight":"bold","labelColor":"#000","titleFont":"Liberation Serif","titleFontWeight":"bold","titleColor":"#000","domainColor":"#a6a6a6","tickColor":"#a6a6a6","grid":false,"tickSize":5,"labelPadding":3},
"legend":{"labelFont":"Liberation Serif","labelFontSize":20,"labelFontWeight":"bold","labelColor":"#000","symbolSize":144,"symbolStrokeWidth":0,"labelOffset":4,"columnPadding":36,"padding":0}
}
}
